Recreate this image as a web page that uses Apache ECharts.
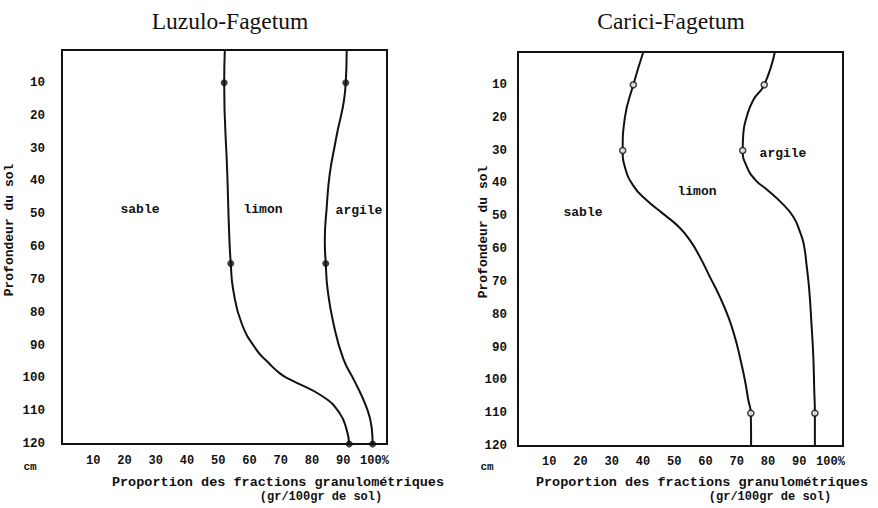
<!DOCTYPE html>
<html>
<head>
<meta charset="utf-8">
<script src="https://cdn.jsdelivr.net/npm/echarts@6/dist/echarts.min.js"></script>
<style>html,body{margin:0;padding:0;background:#fff}#c{width:878px;height:508px}</style>
</head>
<body>
<div id="c"></div>
<script>
// ---- Data ----
// Luzulo-Fagetum: cumulative % boundaries vs depth (cm)
const luzDepthSable = [0, 10, 38, 56, 65, 73.1, 83.3, 91.4, 95.2, 98.5, 100.3, 105.6, 110.7, 115.7, 120];
const luzSable      = [52.1, 51.9, 52.9, 53.5, 54.0, 54.8, 57.5, 62.3, 66.0, 69.7, 72.9, 83.6, 88.9, 91.1, 91.9];
const luzDepthLimon = [0, 10, 27.5, 37.6, 48, 58, 65, 73, 83, 94, 101, 109, 115, 120];
const luzLimon      = [91.1, 90.8, 87.6, 85.7, 84.7, 84.1, 84.4, 85.0, 86.8, 90.0, 93.7, 97.5, 99.1, 99.4];
const luzSampleDepth = [10, 65, 120];
const luzSampleSable = [51.9, 54.0, 91.9];
const luzSampleLimon = [90.8, 84.4, 99.4];

// Carici-Fagetum
const carDepthSable = [0, 10, 20, 30, 35, 41, 45, 49, 53.3, 57.3, 62.4, 68.5, 74.6, 80.7, 86.8, 92.9, 99.9, 106, 110, 120];
const carSable      = [40.1, 36.9, 34.2, 33.5, 34.2, 37.1, 41.0, 46.1, 51.5, 55.0, 58.2, 61.4, 64.6, 67.3, 69.4, 71.0, 72.6, 73.7, 74.5, 74.6];
const carDepthLimon = [0, 10, 14.6, 19.7, 24.8, 30, 34.9, 39, 42, 46.1, 50.2, 55.2, 58.8, 65.4, 72.5, 82.6, 92.8, 103, 110, 120];
const carLimon      = [82.2, 78.8, 75.3, 73.2, 72.1, 71.9, 73.2, 76.0, 79.8, 84.5, 88.1, 90.4, 91.5, 92.4, 93.2, 93.9, 94.5, 94.8, 95.0, 95.0];
const carSampleDepth = [10, 30, 110];
const carSampleSable = [36.9, 33.5, 74.5];
const carSampleLimon = [78.8, 71.9, 95.0];

const titles = ['Luzulo-Fagetum', 'Carici-Fagetum'];
const yTitle = 'Profondeur du sol';
const xTitle1 = 'Proportion des fractions granulométriques';
const xTitle2 = '(gr/100gr de sol)';
const unitLabel = 'cm';
const zoneLabels = ['sable', 'limon', 'argile'];

// ---- Chart ----
const pair = (xs, ys) => xs.map((v, i) => [v, ys[i]]);
const MONO = '"Liberation Mono", "DejaVu Sans Mono", monospace';
const SERIF = '"Liberation Serif", "DejaVu Serif", serif';

function xAxisCfg(idx, margin) {
  return {
    type: 'value', gridIndex: idx, min: 0, max: 104, interval: 10,
    axisLine: {show: false}, axisTick: {show: false}, splitLine: {show: false},
    axisLabel: {
      showMaxLabel: false, margin: margin, color: '#111',
      fontFamily: MONO, fontWeight: 'bold', fontSize: 12,
      formatter: v => v === 0 ? '' : (v === 100 ? '100%' : String(v))
    }
  };
}
function yAxisCfg(idx, margin) {
  return {
    type: 'value', gridIndex: idx, min: 0, max: 120, interval: 10, inverse: true,
    axisLine: {show: false}, axisTick: {show: false}, splitLine: {show: false},
    axisLabel: {
      margin: margin, color: '#111', fontFamily: MONO, fontWeight: 'bold', fontSize: 12.5,
      formatter: v => v === 0 ? '' : String(v)
    }
  };
}
function curve(idx, xs, ys) {
  return {
    type: 'line', xAxisIndex: idx, yAxisIndex: idx, data: pair(xs, ys),
    smooth: 0.5, showSymbol: false, symbol: 'none',
    lineStyle: {color: '#111', width: 2}, silent: true, animation: false, z: 3
  };
}
function dots(idx, xs, ys, hollow) {
  return {
    type: 'scatter', xAxisIndex: idx, yAxisIndex: idx, data: pair(xs, ys),
    symbol: 'circle', symbolSize: hollow ? 6 : 7,
    itemStyle: hollow ? {color: '#fff', borderColor: '#111', borderWidth: 1.6} : {color: '#111'},
    silent: true, animation: false, z: 5
  };
}
function txt(x, y, s, font, opts) {
  return Object.assign({
    type: 'text', x: x, y: y, silent: true,
    style: Object.assign({text: s, fill: '#111', align: 'center', verticalAlign: 'middle'}, font)
  }, opts || {});
}
const monoFont = (size) => ({font: 'bold ' + size + 'px ' + MONO});
const serifFont = {font: '23.5px ' + SERIF};

const chart = echarts.init(document.getElementById('c'), null, {renderer: 'svg'});
chart.setOption({
  backgroundColor: '#fff',
  animation: false,
  grid: [
    {left: 62, top: 50, width: 325, height: 394, show: true, borderColor: '#111', borderWidth: 2, backgroundColor: 'transparent'},
    {left: 518, top: 52, width: 325, height: 394, show: true, borderColor: '#111', borderWidth: 2, backgroundColor: 'transparent'}
  ],
  xAxis: [xAxisCfg(0, 11), xAxisCfg(1, 10)],
  yAxis: [yAxisCfg(0, 17), yAxisCfg(1, 11)],
  series: [
    curve(0, luzSable, luzDepthSable),
    curve(0, luzLimon, luzDepthLimon),
    dots(0, luzSampleSable, luzSampleDepth, false),
    dots(0, luzSampleLimon, luzSampleDepth, false),
    curve(1, carSable, carDepthSable),
    curve(1, carLimon, carDepthLimon),
    dots(1, carSampleSable, carSampleDepth, true),
    dots(1, carSampleLimon, carSampleDepth, true)
  ],
  graphic: [
    txt(230, 21, titles[0], serifFont),
    txt(671, 21, titles[1], serifFont),
    txt(9, 230, yTitle, monoFont(13), {rotation: Math.PI / 2}),
    txt(483, 232, yTitle, monoFont(13), {rotation: Math.PI / 2}),
    txt(30, 467, unitLabel, monoFont(11)),
    txt(487, 467, unitLabel, monoFont(11)),
    txt(278, 482, xTitle1, monoFont(13.5)),
    txt(321, 497, xTitle2, monoFont(12)),
    txt(702, 482, xTitle1, monoFont(13.5)),
    txt(770, 497, xTitle2, monoFont(12)),
    txt(140, 209, zoneLabels[0], monoFont(13)),
    txt(263, 209, zoneLabels[1], monoFont(13)),
    txt(359, 210, zoneLabels[2], monoFont(13)),
    txt(583, 212, zoneLabels[0], monoFont(13)),
    txt(697, 191, zoneLabels[1], monoFont(13)),
    txt(783, 153, zoneLabels[2], monoFont(13))
  ]
});
</script>
</body>
</html>
